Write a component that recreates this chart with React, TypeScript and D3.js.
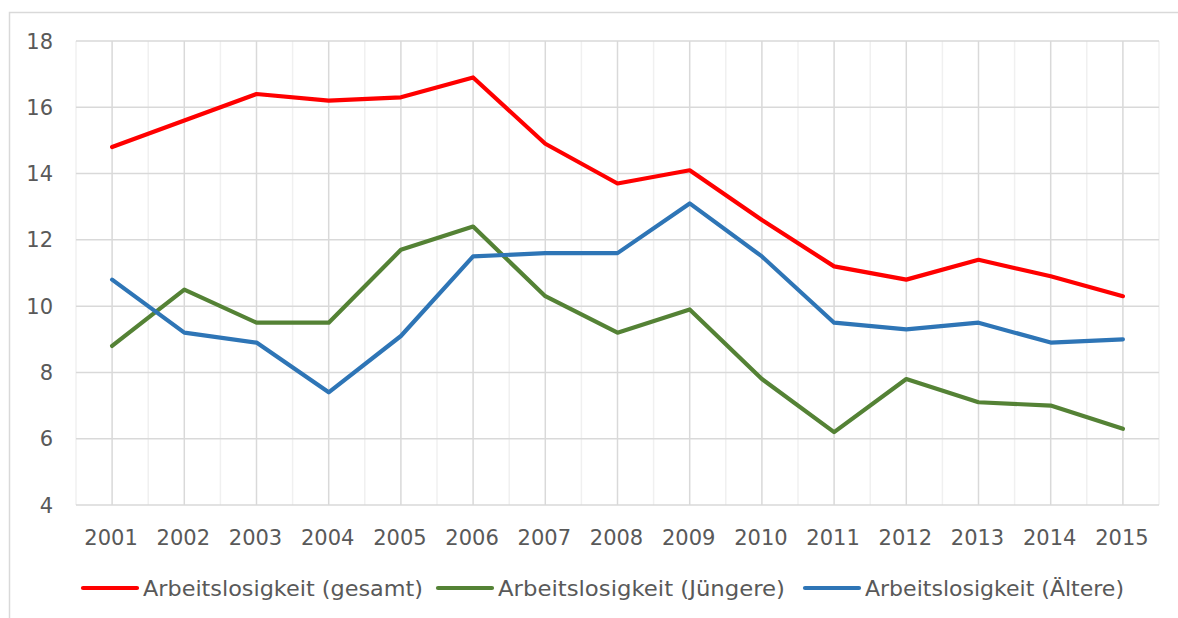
import React, { useEffect, useRef } from "react";
import * as d3 from "d3";

const years = ["2001","2002","2003","2004","2005","2006","2007","2008","2009","2010","2011","2012","2013","2014","2015"];
const gesamt = [14.8, 15.6, 16.4, 16.2, 16.3, 16.9, 14.9, 13.7, 14.1, 12.6, 11.2, 10.8, 11.4, 10.9, 10.3];
const juengere = [8.8, 10.5, 9.5, 9.5, 11.7, 12.4, 10.3, 9.2, 9.9, 7.8, 6.2, 7.8, 7.1, 7.0, 6.3];
const aeltere = [10.8, 9.2, 8.9, 7.4, 9.1, 11.5, 11.6, 11.6, 13.1, 11.5, 9.5, 9.3, 9.5, 8.9, 9.0];
const yTicks = [4, 6, 8, 10, 12, 14, 16, 18];
const seriesNames = ["Arbeitslosigkeit (gesamt)", "Arbeitslosigkeit (Jüngere)", "Arbeitslosigkeit (Ältere)"];
const seriesColors = ["#FF0000", "#548235", "#2E75B6"];

export default function App() {
  const ref = useRef<SVGSVGElement>(null);
  useEffect(() => {
    const svg = d3.select(ref.current);
    svg.selectAll("*").remove();
    const W = 1178, H = 618;
    const left = 76, right = 1159, top = 41, bottom = 505;
    const font = "'DejaVu Sans', sans-serif";

    svg.append("rect").attr("x", 9.5).attr("y", 12.5).attr("width", 1300).attr("height", 800)
      .attr("fill", "#fff").attr("stroke", "#d9d9d9").attr("stroke-width", 1.5);

    const band = d3.scaleBand<string>().domain(years).range([left, right]).padding(0);
    const x = (y: string) => (band(y) as number) + band.bandwidth() / 2;
    const yScale = d3.scaleLinear().domain([4, 18]).range([bottom, top]);

    const g = svg.append("g");
    // minor vertical gridlines at category boundaries
    const bounds = years.map((yr) => band(yr) as number).concat([right]);
    g.selectAll("line.minor").data(bounds).enter().append("line")
      .attr("x1", (d) => d).attr("x2", (d) => d).attr("y1", top).attr("y2", bottom)
      .attr("stroke", "#f0f0f0").attr("stroke-width", 1.5);
    // major vertical gridlines at years
    g.selectAll("line.vmaj").data(years).enter().append("line")
      .attr("x1", (d) => x(d)).attr("x2", (d) => x(d)).attr("y1", top).attr("y2", bottom)
      .attr("stroke", "#d9d9d9").attr("stroke-width", 1.5);
    // horizontal gridlines
    g.selectAll("line.h").data(yTicks).enter().append("line")
      .attr("x1", left).attr("x2", right).attr("y1", (d) => yScale(d)).attr("y2", (d) => yScale(d))
      .attr("stroke", "#d9d9d9").attr("stroke-width", 1.5);

    // y labels
    g.selectAll("text.yl").data(yTicks).enter().append("text")
      .attr("x", 53).attr("y", (d) => yScale(d)).attr("dy", "0.36em")
      .attr("text-anchor", "end").attr("font-family", font).attr("font-size", 21)
      .attr("fill", "#595959").text((d) => String(d));
    // x labels
    g.selectAll("text.xl").data(years).enter().append("text")
      .attr("x", (d) => x(d) - 1).attr("y", 545)
      .attr("text-anchor", "middle").attr("font-family", font).attr("font-size", 21)
      .attr("fill", "#595959").text((d) => d);

    const data = [gesamt, juengere, aeltere];
    const line = d3.line<number>().x((_, i) => x(years[i])).y((v) => yScale(v));
    data.forEach((vals, i) => {
      g.append("path").attr("d", line(vals) as string).attr("fill", "none")
        .attr("stroke", seriesColors[i]).attr("stroke-width", 4.2)
        .attr("stroke-linejoin", "round").attr("stroke-linecap", "round");
    });

    // legend
    const legX = [83, 438, 805];
    const textLen = [280, 287, 259];
    seriesNames.forEach((name, i) => {
      g.append("line").attr("x1", legX[i]).attr("x2", legX[i] + 54).attr("y1", 588).attr("y2", 588)
        .attr("stroke", seriesColors[i]).attr("stroke-width", 4.2).attr("stroke-linecap", "round");
      g.append("text").attr("x", legX[i] + 60).attr("y", 596)
        .attr("font-family", font).attr("font-size", 22).attr("fill", "#595959")
        .attr("textLength", textLen[i]).attr("lengthAdjust", "spacingAndGlyphs")
        .text(name);
    });
  }, []);
  return (
    <svg ref={ref} width={1178} height={618}
      style={{ position: "absolute", left: 0, top: 0, background: "#fff" }} />
  );
}
